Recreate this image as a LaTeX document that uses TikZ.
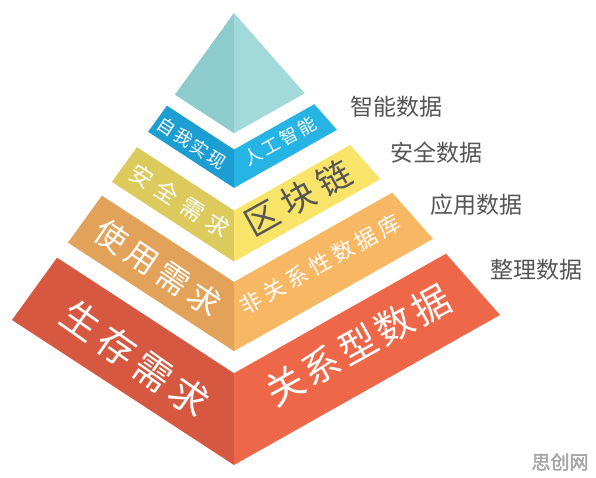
\documentclass[tikz,border=0pt]{standalone}
\usepackage{fontspec}
\newfontfamily\cjk[AutoFakeBold=2]{Noto Sans CJK SC}
\usetikzlibrary{calc}
% 各层颜色:左面较暗,右面较亮
\definecolor{qingL}{RGB}{142,203,204}
\definecolor{qingR}{RGB}{162,217,219}
\definecolor{lanL}{RGB}{28,158,210}
\definecolor{lanR}{RGB}{38,180,228}
\definecolor{huangL}{RGB}{221,202,92}
\definecolor{huangR}{RGB}{248,228,104}
\definecolor{chengL}{RGB}{226,162,90}
\definecolor{chengR}{RGB}{248,183,98}
\definecolor{hongL}{RGB}{214,88,64}
\definecolor{hongR}{RGB}{238,103,72}
\definecolor{ziHui}{RGB}{85,85,85}

\begin{document}
\begin{tikzpicture}[x=1pt, y=-1pt,
    lbl/.style 2 args={font=\cjk\fontsize{#1}{#1}\selectfont\addfontfeature{LetterSpace=#2},
        text=white, inner sep=0pt},
    rlbl/.style={font=\cjk\fontsize{23}{23}\selectfont, text=ziHui, inner sep=0pt}]
    \useasboundingbox[fill=white] (0,0) rectangle (596,478);
    % 金字塔的顶点与底面三个角
    \coordinate (A) at (234,13);
    \coordinate (L) at (12,320);
    \coordinate (C) at (234,465);
    \coordinate (R) at (500,315);
    % 五层,每层分左右两面
    \foreach \ta/\tb/\cl/\cr [count=\i] in {0/0.266/qingL/qingR, 0.302/0.387/lanL/lanR,
        0.437/0.55/huangL/huangR, 0.595/0.748/chengL/chengR, 0.797/1/hongL/hongR} {
        \fill[\cl] ($(A)!\ta!(L)$) -- ($(A)!\tb!(L)$) -- ($(A)!\tb!(C)$) -- ($(A)!\ta!(C)$) -- cycle;
        \fill[\cr] ($(A)!\ta!(C)$) -- ($(A)!\tb!(C)$) -- ($(A)!\tb!(R)$) -- ($(A)!\ta!(R)$) -- cycle;
    }
    % 左面文字
    \node[lbl={18}{10}, rotate=-33] (zwsx) at (192,143) {自我实现};
    \node[lbl={23}{30}, rotate=-33] (aqxq) at (180,201) {安全需求};
    \node[lbl={32}{18}, rotate=-34] (syxq) at (158,268) {使用需求};
    \node[lbl={38}{16}, rotate=-35] (scxq) at (135,359) {生存需求};
    % 右面文字
    \node[lbl={18}{15}, rotate=29] (rgzn) at (280,141) {人工智能};
    \node[lbl={34}{20}, rotate=29, text=ziHui] (qkl) at (298,198) {区块链};
    \node[lbl={22}{20}, rotate=29] (fgx) at (320,264) {非关系性数据库};
    \node[lbl={38}{10}, rotate=29] (gxx) at (358,345) {关系型数据};
    % 右侧说明
    \node[rlbl] (znsj) at (396,107) {智能数据};
    \node[rlbl] (aqsj) at (436,153) {安全数据};
    \node[rlbl] (yysj) at (476,205) {应用数据};
    \node[rlbl] (zlsj) at (536,270) {整理数据};
    % 水印
    \node[font=\cjk\fontsize{19}{19}\selectfont\bfseries, text=black!35, inner sep=0pt] (sy) at (560,462) {思创网};
\end{tikzpicture}
\end{document}
